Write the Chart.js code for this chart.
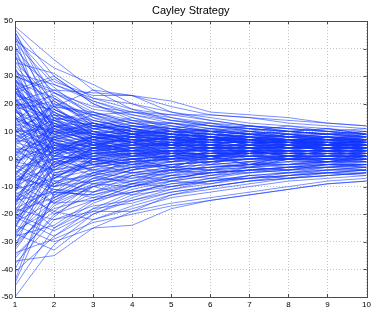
<!DOCTYPE html>
<html><head><meta charset="utf-8">
<script src="https://cdn.jsdelivr.net/npm/chart.js@4.4.1/dist/chart.umd.min.js"></script>
<style>html,body{margin:0;padding:0;background:#fff}#wrap{width:374px;height:310px}</style>
</head><body><div id="wrap"><canvas id="c" width="374" height="310"></canvas></div>
<script>
const titleText = "Cayley Strategy";
const xValues = [1,2,3,4,5,6,7,8,9,10];
const xTicks = [1,2,3,4,5,6,7,8,9,10];
const yTicks = [-50,-40,-30,-20,-10,0,10,20,30,40,50];

const s001 = [48, 36, 25, 23, 21, 17, 16, 15, 13, 12];
const s002 = [47, 30, 20, 14, 10, 8, 7, 6, 5, 5];
const s003 = [46, 22, 12, 9, 8, 7, 6, 5, 5, 4];
const s004 = [45, 14, 8, 6, 5, 4, 4, 3, 3, 3];
const s005 = [44, 5, 3, 4, 5, 5, 5, 5, 4, 4];
const s006 = [42, 27, 21, 16, 13, 11, 10, 9, 8, 8];
const s007 = [40, 10, 12, 10, 9, 8, 7, 7, 6, 6];
const s008 = [38, -2, 2, 3, 4, 4, 4, 4, 4, 4];
const s009 = [35, 31, 22, 18, 16, 14, 12, 11, 10, 9];
const s010 = [34, 18, 11, 9, 7, 6, 6, 5, 5, 5];
const s011 = [32, 20, 16, 13, 11, 10, 9, 8, 8, 7];
const s012 = [30, 25, 24, 23, 17, 15, 13, 12, 11, 10];
const s013 = [30, 12, 8, 7, 6, 5, 5, 5, 4, 4];
const s014 = [29, 3, 4, 5, 5, 5, 4, 4, 4, 4];
const s015 = [28, 22, 15, 12, 10, 9, 8, 7, 7, 6];
const s016 = [28, -6, -2, 0, 1, 2, 2, 3, 3, 3];
const s017 = [27, 16, 14, 11, 9, 8, 7, 6, 6, 6];
const s018 = [26, 8, 10, 9, 8, 7, 6, 6, 5, 5];
const s019 = [25, 30, 20, 15, 12, 10, 9, 8, 7, 7];
const s020 = [25, 0, 1, 2, 3, 3, 3, 3, 3, 3];
const s021 = [24, 13, 5, 3, 2, 2, 2, 2, 2, 2];
const s022 = [23, 19, 17, 14, 12, 10, 9, 8, 7, 7];
const s023 = [22, -10, -5, -2, 0, 1, 2, 2, 2, 2];
const s024 = [22, 6, 2, 1, 1, 1, 1, 1, 1, 1];
const s025 = [21, 25, 18, 16, 14, 12, 11, 10, 9, 9];
const s026 = [20, 10, 7, 4, 3, 3, 2, 2, 2, 2];
const s027 = [20, -3, 3, 5, 6, 6, 6, 5, 5, 5];
const s028 = [19, 14, 9, 7, 6, 5, 5, 4, 4, 4];
const s029 = [18, 2, -2, -1, 0, 1, 1, 1, 1, 1];
const s030 = [18, 21, 13, 10, 8, 7, 6, 6, 5, 5];
const s031 = [17, 9, 11, 12, 11, 10, 9, 8, 8, 7];
const s032 = [16, -14, -8, -4, -2, -1, 0, 1, 1, 1];
const s033 = [15, 7, 4, 5, 6, 6, 6, 6, 6, 6];
const s034 = [14, 24, 17, 13, 11, 9, 8, 7, 7, 6];
const s035 = [13, 1, 0, 2, 3, 4, 4, 4, 4, 4];
const s036 = [12, 16, 13, 10, 9, 8, 8, 7, 7, 7];
const s037 = [11, -5, -3, -1, 0, 0, 1, 1, 1, 1];
const s038 = [10, 11, 9, 8, 7, 7, 6, 6, 6, 5];
const s039 = [10, 4, 6, 7, 7, 7, 7, 7, 6, 6];
const s040 = [9, 20, 14, 11, 9, 8, 7, 7, 6, 6];
const s041 = [8, -8, -6, -3, -2, -1, 0, 0, 1, 1];
const s042 = [7, 13, 10, 9, 8, 7, 7, 6, 6, 6];
const s043 = [6, 2, 3, 3, 3, 3, 3, 3, 3, 3];
const s044 = [5, 15, 8, 6, 5, 5, 5, 4, 4, 4];
const s045 = [3, 8, 5, 4, 4, 4, 4, 4, 4, 4];
const s046 = [2, -12, -7, -4, -2, -1, 0, 0, 0, 0];
const s047 = [1, 18, 12, 10, 8, 7, 6, 6, 5, 5];
const s048 = [0, 5, 7, 6, 5, 5, 5, 5, 5, 5];
const s049 = [-1, -4, -1, 1, 2, 2, 3, 3, 3, 3];
const s050 = [-2, 10, 9, 8, 7, 6, 6, 6, 5, 5];
const s051 = [-3, 0, 2, 3, 3, 4, 4, 4, 4, 4];
const s052 = [-4, 22, 14, 11, 9, 8, 7, 7, 6, 6];
const s053 = [-5, -16, -10, -6, -4, -3, -2, -1, -1, 0];
const s054 = [-6, 7, 4, 3, 3, 3, 3, 3, 3, 3];
const s055 = [-7, -10, -6, -3, -1, 0, 1, 1, 1, 2];
const s056 = [-8, 3, 6, 7, 7, 6, 6, 6, 6, 5];
const s057 = [-9, -20, -15, -10, -7, -5, -4, -3, -2, -2];
const s058 = [-10, 12, 9, 8, 7, 6, 6, 6, 5, 5];
const s059 = [-10, -2, 1, 2, 3, 3, 3, 3, 3, 3];
const s060 = [-11, -7, -4, -2, -1, 0, 0, 1, 1, 1];
const s061 = [-12, 6, 8, 8, 7, 7, 7, 6, 6, 6];
const s062 = [-13, -25, -18, -12, -9, -7, -5, -4, -3, -3];
const s063 = [-14, 1, 0, 1, 2, 2, 3, 3, 3, 3];
const s064 = [-15, -12, -13, -10, -8, -6, -5, -4, -4, -3];
const s065 = [-16, 9, 6, 5, 5, 5, 5, 5, 5, 5];
const s066 = [-17, -4, -2, 0, 1, 1, 2, 2, 2, 2];
const s067 = [-18, -22, -17, -15, -12, -10, -8, -7, -6, -5];
const s068 = [-19, 4, 2, 2, 2, 2, 2, 2, 2, 2];
const s069 = [-20, -9, -5, -3, -2, -1, 0, 0, 0, 1];
const s070 = [-21, -28, -20, -14, -10, -8, -6, -5, -4, -4];
const s071 = [-22, -1, 2, 3, 4, 4, 4, 4, 4, 4];
const s072 = [-23, -15, -9, -5, -3, -2, -1, 0, 0, 0];
const s073 = [-24, -30, -25, -19, -13, -10, -8, -6, -5, -4];
const s074 = [-25, 5, 5, 5, 5, 5, 5, 5, 4, 4];
const s075 = [-26, -18, -14, -12, -10, -8, -7, -6, -5, -5];
const s076 = [-27, -6, -3, -1, 0, 1, 1, 2, 2, 2];
const s077 = [-28, -24, -15, -10, -7, -5, -4, -3, -2, -2];
const s078 = [-29, -10, -8, -6, -4, -3, -2, -2, -1, -1];
const s079 = [-30, -19, -22, -18, -14, -12, -10, -8, -7, -6];
const s080 = [-32, 0, 3, 4, 4, 4, 4, 4, 4, 4];
const s081 = [-34, -29, -23, -20, -17, -15, -13, -11, -9, -8];
const s082 = [-37, -35, -25, -24, -18, -15, -13, -11, -9, -8];
const s083 = [-36, -20, -12, -8, -5, -3, -2, -1, -1, 0];
const s084 = [-40, -13, -10, -8, -6, -5, -4, -3, -3, -2];
const s085 = [-46, -25, -16, -11, -8, -6, -4, -3, -2, -2];
const s086 = [-50, -31, -20, -15, -11, -8, -6, -5, -4, -3];
const s087 = [-44, -5, -2, 0, 1, 2, 2, 2, 2, 2];
const s088 = [12, 3, 5, 8, 10, 9, 8, 7, 7, 6];
const s089 = [20, 15, 12, 14, 13, 12, 11, 10, 9, 8];
const s090 = [-8, -3, 4, 6, 8, 9, 9, 8, 8, 7];
const s091 = [27, 7, 0, -2, -3, -2, -1, 0, 0, 1];
const s092 = [33, 11, 6, 3, 2, 1, 1, 0, 0, 0];
const s093 = [4, -6, -9, -7, -5, -4, -3, -2, -1, -1];
const s094 = [-3, 14, 11, 12, 11, 10, 10, 9, 9, 8];
const s095 = [15, 0, -4, -5, -4, -3, -2, -2, -1, -1];
const s096 = [-15, 2, 7, 9, 10, 10, 9, 9, 8, 8];
const s097 = [24, 17, 10, 6, 4, 3, 3, 2, 2, 2];
const s098 = [9, -1, -1, 0, 1, 2, 2, 3, 3, 3];
const s099 = [-12, 15, 12, 10, 9, 8, 8, 7, 7, 7];
const s100 = [29, 10, 13, 11, 9, 8, 7, 7, 6, 6];
const s101 = [-6, -11, -12, -9, -6, -4, -3, -2, -2, -1];
const s102 = [18, 8, 1, 4, 6, 7, 7, 7, 7, 6];
const s103 = [6, 10, 7, 2, 0, 0, 0, 1, 1, 1];
const s104 = [-24, -7, 0, 2, 2, 2, 2, 2, 2, 2];
const s105 = [37, 16, 9, 7, 6, 6, 6, 6, 6, 5];
const s106 = [-1, 6, 3, 0, -1, -1, 0, 0, 0, 0];
const s107 = [13, 19, 16, 12, 10, 9, 8, 8, 7, 7];
const s108 = [-19, -14, -8, -4, -1, 1, 2, 3, 3, 3];
const s109 = [2, 12, 10, 7, 5, 4, 4, 3, 3, 3];
const s110 = [22, 4, 8, 10, 10, 9, 8, 8, 7, 7];
const s111 = [44, 28, 23, 23, 19, 16, 15, 14, 13, 12];
const s112 = [30, 24, 19, 17, 16, 16, 15, 13, 12, 11];
const s113 = [-38, -22, -19, -19, -16, -14, -12, -10, -8, -7];
const s114 = [26, 12, 13, 9, 7, 8, 6, 7, 5, 6];
const s115 = [-5, 3, 8, 6, 8, 5, 7, 4, 5, 3];
const s116 = [16, 6, -2, 1, 0, 2, 1, 3, 1, 3];
const s117 = [-13, -4, 4, 3, 7, 5, 8, 6, 7, 5];
const s118 = [8, 14, 7, 10, 7, 9, 7, 9, 7, 8];
const s119 = [31, 9, 4, 6, 2, 4, 3, 5, 3, 4];
const s120 = [-21, -12, -3, 2, 1, 5, 3, 6, 4, 6];
const s121 = [4, 1, 7, 4, 6, 3, 6, 4, 6, 3];
const s122 = [19, 23, 13, 9, 11, 8, 10, 8, 9, 8];
const s123 = [-9, 6, 0, 4, -1, 3, 0, 2, 0, 2];
const s124 = [12, -3, 2, 7, 5, 8, 6, 8, 6, 8];
const s125 = [-27, -15, -7, -8, -3, -4, -1, -2, 0, -1];
const s126 = [41, 19, 8, 12, 9, 11, 9, 10, 9, 10];
const s127 = [-2, -9, -1, -3, 2, 0, 3, 1, 3, 1];
const s128 = [23, 2, 5, 2, 6, 3, 5, 3, 6, 4];
const s129 = [-17, 8, 12, 9, 10, 7, 9, 7, 8, 7];
const s130 = [7, 4, -1, 2, -1, 1, -2, 1, -1, 0];
const s131 = [-31, -17, -10, -5, -6, -2, -3, 0, -1, 1];
const s132 = [14, 10, 5, 7, 3, 6, 3, 5, 3, 5];
const s133 = [-6, 13, 8, 4, 6, 3, 5, 4, 5, 3];
const s134 = [28, 17, 9, 11, 8, 10, 7, 9, 7, 9];
const s135 = [-12, -19, -9, -10, -6, -7, -4, -5, -3, -4];
const s136 = [2, 7, 11, 8, 10, 7, 9, 7, 8, 6];
const s137 = [19, -7, 0, -2, 2, 0, 3, 1, 3, 1];
const s138 = [-23, -3, 4, 8, 5, 8, 5, 7, 5, 7];
const s139 = [37, 26, 15, 10, 12, 10, 11, 9, 10, 8];
const s140 = [-8, 0, -4, 0, -3, 1, -2, 1, -1, 1];
const s141 = [10, 19, 10, 6, 8, 5, 7, 5, 6, 5];
const s142 = [-35, -21, -10, -13, -8, -9, -6, -7, -5, -6];
const s143 = [5, -2, 6, 3, 5, 2, 4, 2, 4, 2];
const s144 = [24, 11, 16, 11, 13, 10, 12, 10, 11, 9];
const s145 = [-15, -7, 1, -1, 3, 1, 4, 2, 4, 2];
const s146 = [-1, 4, -2, -5, -3, -4, -2, -3, -1, -2];
const s147 = [17, 13, 7, 9, 6, 8, 5, 7, 5, 7];
const s148 = [-20, 1, 8, 6, 9, 6, 9, 6, 8, 6];
const s149 = [33, 3, 8, 5, 8, 5, 7, 5, 7, 5];
const s150 = [-4, -13, -5, -7, -4, -5, -3, -4, -2, -3];
const s151 = [11, 6, 2, 5, 1, 4, 2, 4, 2, 4];
const s152 = [-10, 8, 4, 9, 5, 8, 5, 7, 5, 7];
const s153 = [21, 14, 17, 13, 13, 11, 12, 10, 11, 9];
const s154 = [-28, -8, -12, -6, -8, -4, -5, -3, -3, -2];
const s155 = [6, 16, 9, 5, 7, 4, 6, 4, 6, 4];
const s156 = [-14, -6, 4, 1, 5, 2, 5, 3, 5, 3];
const s157 = [29, 15, 5, 8, 4, 7, 4, 6, 4, 6];
const s158 = [-7, 3, -5, -1, -4, 0, -2, 0, -1, 1];
const s159 = [15, 9, 13, 9, 11, 8, 10, 8, 9, 7];
const s160 = [-3, -10, 0, -2, 1, -1, 2, 0, 2, 0];
const s161 = [39, 12, 6, 9, 6, 8, 6, 7, 6, 7];
const s162 = [-18, -11, -14, -9, -10, -7, -7, -5, -5, -4];
const s163 = [1, 10, 5, 8, 4, 7, 4, 6, 4, 6];
const s164 = [26, 5, 0, 3, 0, 3, 1, 3, 1, 3];
const s165 = [-25, -2, 6, 3, 6, 4, 6, 4, 5, 4];
const s166 = [9, 2, 9, 7, 9, 6, 8, 6, 8, 6];
const s167 = [-11, 11, 6, 1, 3, 1, 3, 1, 2, 1];
const s168 = [20, 18, 11, 13, 10, 11, 9, 10, 9, 10];
const s169 = [-33, -14, -6, -9, -4, -6, -3, -4, -2, -3];
const s170 = [3, -4, 2, 0, 3, 1, 3, 1, 3, 2];
const s171 = [13, 7, 10, 6, 8, 5, 7, 5, 6, 4];
const s172 = [-16, -1, -6, 0, -3, 1, -1, 1, 0, 2];
const s173 = [35, 21, 12, 15, 11, 13, 10, 12, 10, 11];
const s174 = [-5, 5, 1, 6, 2, 5, 2, 5, 3, 5];
const s175 = [18, 1, 4, 1, 4, 1, 3, 1, 3, 1];
const s176 = [-22, -9, 0, -4, 1, -2, 2, -1, 2, -1];
const s177 = [0, 12, 7, 11, 7, 10, 7, 9, 7, 9];
const s178 = [25, 9, 3, 6, 2, 5, 2, 5, 3, 5];
const s179 = [-9, -16, -7, -3, -5, -1, -3, 0, -2, 0];
const s180 = [7, 17, 11, 8, 9, 7, 8, 6, 7, 6];
const s181 = [43, 33, 27, 20, 15, 12, 10, 9, 8, 7];
const s182 = [31, 27, 22, 20, 17, 14, 12, 11, 10, 9];
const s183 = [46, 19, 25, 18, 14, 12, 11, 10, 9, 9];
const s184 = [24, 29, 21, 17, 14, 13, 12, 11, 10, 9];
const s185 = [-27, -33, -22, -17, -13, -11, -9, -7, -6, -5];
const s186 = [-41, -28, -18, -16, -12, -10, -8, -7, -6, -5];
const s187 = [-20, -26, -19, -13, -11, -9, -7, -6, -5, -4];
const s188 = [-32, -16, -15, -12, -9, -8, -7, -6, -4, -4];
const s189 = [40, 24, 16, 17, 15, 13, 11, 10, 9, 8];
const s190 = [-45, -12, -13, -9, -7, -5, -4, -4, -3, -2];

const seriesList = [s001,s002,s003,s004,s005,s006,s007,s008,s009,s010,s011,s012,s013,s014,s015,s016,s017,s018,s019,s020,
s021,s022,s023,s024,s025,s026,s027,s028,s029,s030,s031,s032,s033,s034,s035,s036,s037,s038,s039,s040,
s041,s042,s043,s044,s045,s046,s047,s048,s049,s050,s051,s052,s053,s054,s055,s056,s057,s058,s059,s060,
s061,s062,s063,s064,s065,s066,s067,s068,s069,s070,s071,s072,s073,s074,s075,s076,s077,s078,s079,s080,
s081,s082,s083,s084,s085,s086,s087,s088,s089,s090,s091,s092,s093,s094,s095,s096,s097,s098,s099,s100,
s101,s102,s103,s104,s105,s106,s107,s108,s109,s110,s111,s112,s113,s114,s115,s116,s117,s118,s119,s120,
s121,s122,s123,s124,s125,s126,s127,s128,s129,s130,s131,s132,s133,s134,s135,s136,s137,s138,s139,s140,
s141,s142,s143,s144,s145,s146,s147,s148,s149,s150,s151,s152,s153,s154,s155,s156,s157,s158,s159,s160,
s161,s162,s163,s164,s165,s166,s167,s168,s169,s170,s171,s172,s173,s174,s175,s176,s177,s178,s179,s180,
s181,s182,s183,s184,s185,s186,s187,s188,s189,s190];

const FONT = "'Liberation Sans', Arial, Helvetica, sans-serif";

const datasets = seriesList.map((s, i) => ({
  label: 'run ' + (i + 1),
  data: s.map((v, k) => ({x: xValues[k], y: v})),
  borderColor: 'rgba(20,55,255,0.7)',
  borderWidth: 0.8,
  pointRadius: 0,
  fill: false,
  tension: 0
}));

const frame = {
  id: 'frame',
  afterDatasetsDraw(chart) {
    const {ctx, chartArea: a, scales: {x, y}} = chart;
    ctx.save();
    ctx.strokeStyle = '#4a4a4a';
    ctx.lineWidth = 1;
    ctx.beginPath();
    xTicks.forEach(t => {
      const px = Math.round(x.getPixelForValue(t)) + 0.5;
      ctx.moveTo(px, a.bottom); ctx.lineTo(px, a.bottom - 3);
      ctx.moveTo(px, a.top); ctx.lineTo(px, a.top + 3);
    });
    yTicks.forEach(t => {
      const py = Math.round(y.getPixelForValue(t)) + 0.5;
      ctx.moveTo(a.left, py); ctx.lineTo(a.left + 3, py);
      ctx.moveTo(a.right, py); ctx.lineTo(a.right - 3, py);
    });
    ctx.stroke();
    ctx.strokeRect(Math.round(a.left) + 0.5, Math.round(a.top) + 0.5, Math.round(a.right - a.left), Math.round(a.bottom - a.top));
    ctx.fillStyle = '#000';
    ctx.font = '11px ' + FONT;
    ctx.textAlign = 'center';
    ctx.textBaseline = 'middle';
    ctx.fillText(titleText, (a.left + a.right) / 2, 11);
    ctx.restore();
  }
};

new Chart(document.getElementById('c'), {
  type: 'line',
  data: { datasets },
  options: {
    responsive: false,
    animation: false,
    events: [],
    layout: { padding: { left: 0, right: 7, top: 21, bottom: 0 } },
    plugins: { legend: { display: false }, title: { display: false }, tooltip: { enabled: false } },
    scales: {
      x: {
        type: 'linear', min: 1, max: 10,
        afterBuildTicks: s => { s.ticks = xTicks.map(v => ({value: v})); },
        afterFit: s => { s.height = 13; },
        border: { display: false, dash: [1, 2] },
        grid: { color: '#c4c4c4', lineWidth: 1, drawTicks: false },
        ticks: { color: '#000', font: { size: 8, family: FONT }, padding: 3, maxRotation: 0, autoSkip: false }
      },
      y: {
        type: 'linear', min: -50, max: 50,
        afterBuildTicks: s => { s.ticks = yTicks.map(v => ({value: v})); },
        afterFit: s => { s.width = 15; },
        border: { display: false, dash: [1, 2] },
        grid: { color: '#c4c4c4', lineWidth: 1, drawTicks: false },
        ticks: { color: '#000', font: { size: 8, family: FONT }, padding: 2, autoSkip: false }
      }
    }
  },
  plugins: [frame]
});
</script>
</body></html>
